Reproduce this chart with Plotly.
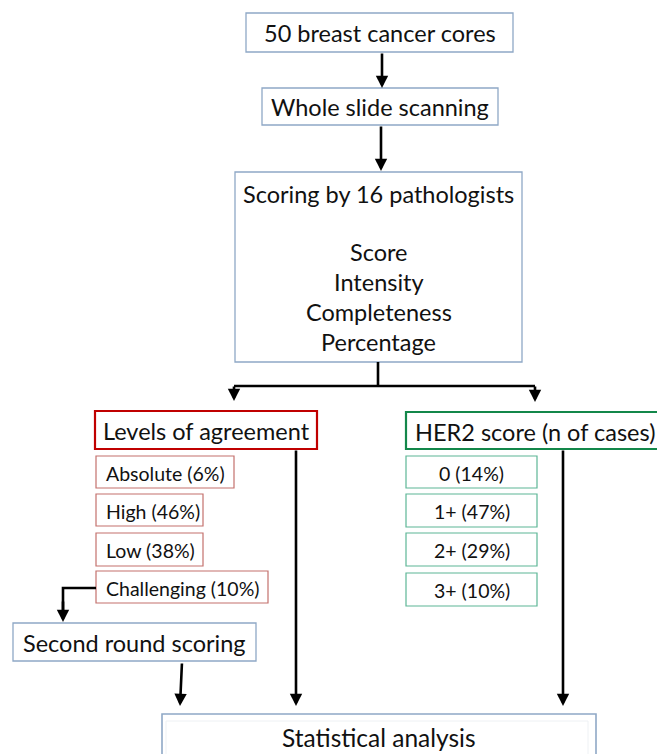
import plotly.graph_objects as go

# ---- data ----
top_steps = ["50 breast cancer cores", "Whole slide scanning"]
scoring_title = "Scoring by 16 pathologists"
scoring_items = ["Score", "Intensity", "Completeness", "Percentage"]
agreement_title = "Levels of agreement"
agreement_levels = ["Absolute", "High", "Low", "Challenging"]
agreement_pct = [6, 46, 38, 10]
her2_title = "HER2 score (n of cases)"
her2_scores = ["0", "1+", "2+", "3+"]
her2_pct = [14, 47, 29, 10]
second_round = "Second round scoring"
final_step = "Statistical analysis"

FONT = "Lato"
BLUE = "#8fa8c6"
RED = "#c00000"
RED_SUB = "#c4716d"
GREEN = "#13874a"
GREEN_SUB = "#5db696"
W, H = 665, 754
OFF = 8  # page body margin
HEAD = 23.5
SUB = 19.5

shapes = []
annotations = []


def box(x0, y0, x1, y1, color, width=1.3):
    shapes.append(dict(type="rect", xref="x", yref="y", x0=x0, y0=y0, x1=x1, y1=y1,
                       line=dict(color=color, width=width), fillcolor="white", layer="below"))


def text(x, y, s, size=HEAD, xanchor="center"):
    annotations.append(dict(x=x, y=y, xref="x", yref="y", text=s, showarrow=False,
                            xanchor=xanchor, yanchor="middle",
                            font=dict(family=FONT, size=size, color="#111111")))


def line(pts, width=2.6):
    path = "M " + " L ".join(f"{px},{py}" for px, py in pts)
    shapes.append(dict(type="path", xref="x", yref="y", path=path,
                       line=dict(color="black", width=width)))


def arrow(x0, y0, x1, y1):
    annotations.append(dict(x=x1, y=y1, ax=x0, ay=y0, xref="x", yref="y",
                            axref="x", ayref="y", text="", showarrow=True,
                            arrowhead=2, arrowsize=0.95, arrowwidth=2.6,
                            arrowcolor="black", standoff=0))


# top boxes
box(246, 13, 513, 52, BLUE)
text(379.5, 33, top_steps[0])
box(262, 88, 498, 125, BLUE)
text(380, 107, top_steps[1])
arrow(382, 52, 382, 88)
arrow(381, 125, 381, 171)

# scoring box
box(235, 172, 522, 362, BLUE)
text(378.5, 194, scoring_title)
for i, s in enumerate(scoring_items):
    text(378.5, 252 + 30 * i, s)

# split
line([(378, 362), (378, 386)])
line([(234, 386), (535, 386)])
arrow(234, 385, 234, 401)
arrow(535, 385, 535, 402)

# levels of agreement
box(95, 411, 317, 449, RED, width=2.2)
text(206, 431, agreement_title)
sub_rows = [(456, 488), (494, 526), (533, 566), (571, 603)]
sub_right = [234, 203, 203, 268]
for (t, b), r, lab, p in zip(sub_rows, sub_right, agreement_levels, agreement_pct):
    box(96, t, r, b, RED_SUB, width=1.2)
    text(104, (t + b) / 2 + 1, f"{lab} ({p}%)", size=SUB, xanchor="left")

# her2
box(406, 412, 663, 449, GREEN, width=2.2)
text(535, 432, her2_title)
her_rows = [(456, 488), (494, 527), (533, 566), (573, 606)]
for (t, b), lab, p in zip(her_rows, her2_scores, her2_pct):
    box(406, t, 537, b, GREEN_SUB, width=1.2)
    text(471.5, (t + b) / 2 + 1, f"{lab} ({p}%)", size=SUB)

# challenging -> second round
line([(96, 588), (63, 588), (63, 610)])
arrow(63, 600, 63, 622)
box(13, 623, 256, 661, BLUE)
text(134.5, 643, second_round)

# to statistical analysis
arrow(182, 662, 180, 706)
arrow(296, 449, 296, 706)
arrow(563, 449, 563, 706)

box(162, 714, 596, 790, BLUE, width=1.6)
shapes.append(dict(type="rect", xref="x", yref="y", x0=166, y0=721, x1=588, y1=790,
                   line=dict(color="#eef1f4", width=1), fillcolor="rgba(0,0,0,0)"))
text(379, 737, final_step, size=24.5)

fig = go.Figure()
fig.add_trace(go.Scatter(x=[OFF, W], y=[OFF, H], mode="markers",
                         marker=dict(opacity=0), hoverinfo="skip", showlegend=False))
fig.update_layout(
    width=W - OFF, height=H - OFF,
    margin=dict(l=0, r=0, t=0, b=0),
    paper_bgcolor="white", plot_bgcolor="white",
    xaxis=dict(range=[OFF, W], visible=False, fixedrange=True),
    yaxis=dict(range=[H, OFF], visible=False, fixedrange=True),
    shapes=shapes, annotations=annotations,
    showlegend=False,
)
fig.write_html("out.html")
